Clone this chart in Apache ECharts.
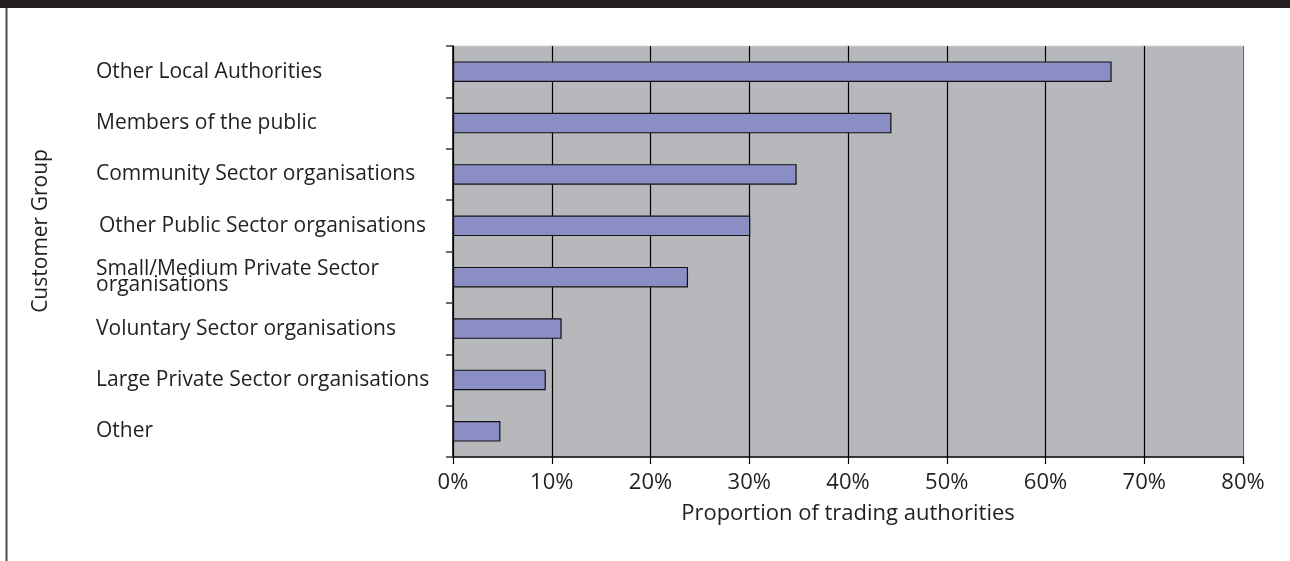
<!DOCTYPE html>
<html>
<head>
<meta charset="utf-8">
<script src="https://cdn.jsdelivr.net/npm/echarts@6/dist/echarts.min.js"></script>
<style>
  html, body { margin: 0; padding: 0; background: #ffffff; }
  #chart { width: 1290px; height: 561px; }
</style>
</head>
<body>
<div id="chart"></div>
<script>
// Customer groups served by trading authorities (top to bottom)
const categories = [
  'Other Local Authorities',
  'Members of the public',
  'Community Sector organisations',
  'Other Public Sector organisations',
  'Small/Medium Private Sector\norganisations',
  'Voluntary Sector organisations',
  'Large Private Sector organisations',
  'Other'
];
// Share of trading authorities, in percent
const shares = [66.7, 44.4, 34.8, 30.1, 23.8, 11.0, 9.4, 4.8];
const xAxisTitle = 'Proportion of trading authorities';
const yAxisTitle = 'Customer Group';

const FONT = '"Open Sans", "Noto Sans", sans-serif';
const TEXT = '#231f20';
const SIZE = 21;
const X_SIZE = 22;

const chart = echarts.init(document.getElementById('chart'), null, { renderer: 'canvas' });

// 9 vertical gridlines (0%..80%); the last one is the plot's right edge
const gridColors = ['#000', '#000', '#000', '#000', '#000', '#000', '#000', '#000', '#6b6b6d'];

chart.setOption({
  animation: false,
  backgroundColor: '#ffffff',
  textStyle: { fontFamily: FONT, color: TEXT },
  grid: {
    left: 453, right: 47, top: 46, bottom: 104,
    show: true,
    backgroundColor: '#b7b8bb',
    borderColor: '#d4d4d6',
    borderWidth: 1
  },
  xAxis: {
    type: 'value',
    min: 0, max: 80, interval: 10,
    axisLine: { show: true, lineStyle: { color: '#000', width: 1.5 } },
    axisTick: { show: true, length: 7, lineStyle: { color: '#000', width: 1.2 } },
    axisLabel: {
      formatter: '{value}%', fontSize: X_SIZE, fontFamily: FONT, color: TEXT, margin: 15
    },
    splitLine: { show: true, lineStyle: { color: gridColors, width: 1.2 } },
    name: xAxisTitle,
    nameLocation: 'middle',
    nameGap: 46,
    nameTextStyle: { fontSize: X_SIZE, fontFamily: FONT, color: TEXT }
  },
  yAxis: {
    type: 'category',
    data: categories,
    inverse: true,
    axisLine: { show: true, lineStyle: { color: '#000', width: 1.5 } },
    axisTick: { show: true, length: 7, lineStyle: { color: '#3a3a3a', width: 1.5 } },
    axisLabel: {
      align: 'left',
      margin: 357,
      fontSize: SIZE,
      lineHeight: 16,
      fontFamily: FONT,
      color: TEXT,
      // the public-sector row sits a little further right
      formatter: (value, index) => (index === 3 ? '{ind|' + value + '}' : value),
      rich: {
        ind: { fontSize: SIZE, fontFamily: FONT, color: TEXT, padding: [0, 0, 0, 3] }
      }
    },
    splitLine: { show: false }
  },
  series: [{
    type: 'bar',
    data: shares,
    barWidth: '40%',
    itemStyle: { color: '#8b8ec5', borderColor: '#111', borderWidth: 1.2 },
    silent: true
  }],
  graphic: [
    // header band and left frame line
    { type: 'rect', shape: { x: 0, y: 0, width: 1290, height: 8 }, style: { fill: '#231f20' } },
    { type: 'line', shape: { x1: 6.5, y1: 8, x2: 6.5, y2: 561 }, style: { stroke: '#4a4a4a', lineWidth: 2 } },
    {
      type: 'text',
      x: 41, y: 231,
      rotation: Math.PI / 2,
      style: {
        text: yAxisTitle, fontSize: SIZE, fontFamily: FONT, fill: TEXT,
        textAlign: 'center', textVerticalAlign: 'middle'
      }
    }
  ]
});
</script>
</body>
</html>
